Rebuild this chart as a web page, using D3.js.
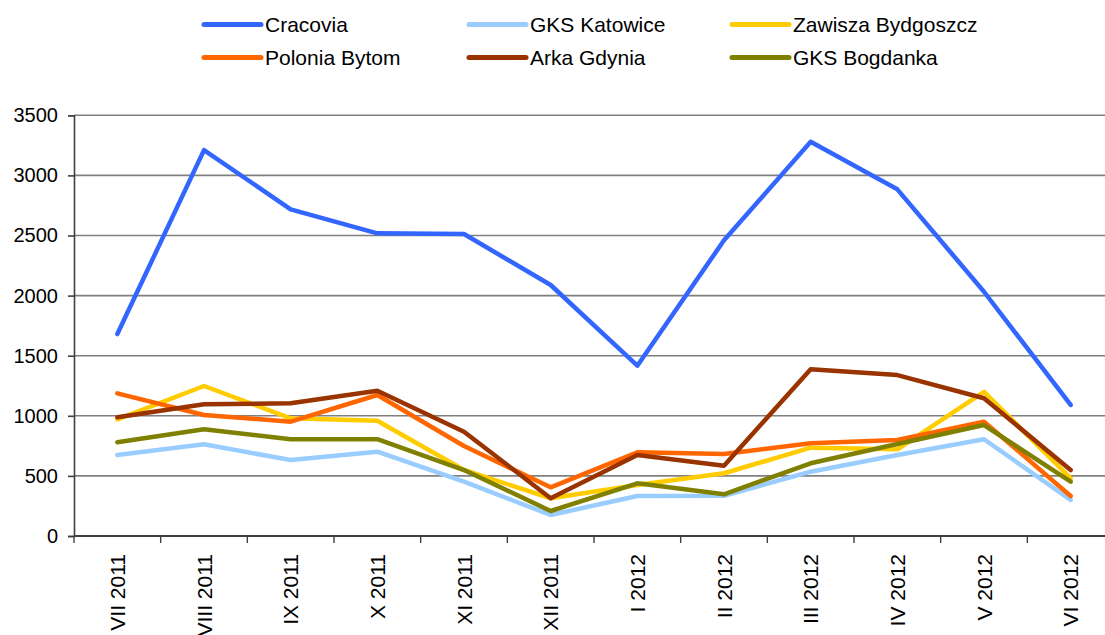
<!DOCTYPE html>
<html lang="en">
<head>
  <meta charset="UTF-8">
  <title>Frekwencja</title>
  <script src="https://d3js.org/d3.v7.min.js"></script>
  <style>
    body { margin: 0; background: #fff; }
    svg { display: block; font-family: "Liberation Sans", Arial, sans-serif; }
  </style>
</head>
<body>
  <svg id="chart" width="1105" height="635"></svg>
  <script>
    // months (categories)
    var months = ["VII 2011", "VIII 2011", "IX 2011", "X 2011", "XI 2011", "XII 2011",
      "I 2012", "II 2012", "III 2012", "IV 2012", "V 2012", "VI 2012"]

    var yTicks = [0, 500, 1000, 1500, 2000, 2500, 3000, 3500]

    // series values
    var cracovia = [1680, 3210, 2718, 2518, 2512, 2088, 1417, 2460, 3280, 2884, 2032, 1090]
    var katowice = [674, 763, 632, 701, 452, 175, 333, 335, 535, 674, 805, 300]
    var zawisza = [971, 1248, 979, 959, 549, 314, 424, 522, 735, 721, 1200, 480]
    var polonia = [1187, 1007, 951, 1173, 749, 405, 696, 682, 771, 799, 951, 333]
    var arka = [988, 1096, 1104, 1209, 868, 314, 674, 585, 1387, 1339, 1146, 549]
    var bogdanka = [780, 888, 805, 805, 549, 208, 438, 347, 605, 765, 923, 452]

    var seriesNames = ["Cracovia", "GKS Katowice", "Zawisza Bydgoszcz", "Polonia Bytom", "Arka Gdynia", "GKS Bogdanka"]
    var seriesValues = [cracovia, katowice, zawisza, polonia, arka, bogdanka]
    var colors = ["#3366ff", "#99ccff", "#ffcc00", "#ff6600", "#993300", "#808000"]

    var svg = d3.select("#chart")
    var plotLeft = 74, plotRight = 1114, plotTop = 115.3, plotBottom = 536

    var xScale = d3.scaleBand().domain(months).range([plotLeft, plotRight])
    var yScale = d3.scaleLinear().domain([0, 3500]).range([plotBottom, plotTop])

    // gridlines
    svg.append("g")
      .selectAll("line")
      .data(yTicks.filter(function (d) { return d > 0 }))
      .enter()
      .append("line")
      .attr("x1", plotLeft)
      .attr("x2", plotRight)
      .attr("y1", function (d) { return yScale(d) })
      .attr("y2", function (d) { return yScale(d) })
      .style("stroke", "#808080")
      .style("stroke-width", 1.6)

    // y axis
    var yAxis = svg.append("g")
      .attr("transform", "translate(" + plotLeft + ",0)")
      .call(d3.axisLeft(yScale).tickValues(yTicks).tickFormat(d3.format("d")).tickSize(6).tickPadding(10))
    yAxis.select(".domain").style("stroke", "#404040").style("stroke-width", 1.6)
    yAxis.selectAll(".tick line").style("stroke", "#404040").style("stroke-width", 1.6)
    yAxis.selectAll("text")
      .style("font-family", "Liberation Sans, Arial, sans-serif")
      .style("font-size", "20px")
      .style("fill", "#000")

    // x axis: ticks on band borders
    var xAxis = svg.append("g")
      .attr("transform", "translate(0," + plotBottom + ")")
    xAxis.append("line")
      .attr("x1", plotLeft).attr("x2", plotRight)
      .style("stroke", "#404040").style("stroke-width", 2)
    xAxis.selectAll(".tk")
      .data(months)
      .enter()
      .append("line")
      .attr("class", "tk")
      .attr("x1", function (d) { return xScale(d) })
      .attr("x2", function (d) { return xScale(d) })
      .attr("y1", 0).attr("y2", 7)
      .style("stroke", "#404040").style("stroke-width", 1.4)
    xAxis.selectAll(".lbl")
      .data(months)
      .enter()
      .append("text")
      .attr("class", "lbl")
      .attr("transform", function (d) {
        return "translate(" + (xScale(d) + xScale.bandwidth() / 2) + ",18)rotate(-90)"
      })
      .attr("dy", "0.36em")
      .attr("text-anchor", "end")
      .style("font-size", "21px")
      .style("fill", "#000")
      .text(function (d) { return d })

    // lines
    var line = d3.line()
      .x(function (d, i) { return xScale(months[i]) + xScale.bandwidth() / 2 })
      .y(function (d) { return yScale(d) })

    // draw order: light first so the darker ones sit on top like the original
    var order = [1, 2, 3, 5, 4, 0]
    order.forEach(function (k) {
      svg.append("path")
        .datum(seriesValues[k])
        .attr("d", line)
        .style("fill", "none")
        .style("stroke", colors[k])
        .style("stroke-width", 4.5)
        .style("stroke-linejoin", "round")
        .style("stroke-linecap", "round")
    })

    // legend
    var legX = [204, 469, 732], legY = [24.5, 57.5]
    var legend = svg.append("g")
      .selectAll("g")
      .data(seriesNames)
      .enter()
      .append("g")
      .attr("transform", function (d, i) {
        return "translate(" + legX[i % 3] + "," + legY[Math.floor(i / 3)] + ")"
      })
    legend.append("line")
      .attr("x1", 0).attr("x2", 57)
      .style("stroke", function (d, i) { return colors[i] })
      .style("stroke-width", 5)
      .style("stroke-linecap", "round")
    legend.append("text")
      .attr("x", 61)
      .attr("dy", "0.36em")
      .style("font-size", "21px")
      .style("fill", "#000")
      .text(function (d) { return d })
  </script>
</body>
</html>
